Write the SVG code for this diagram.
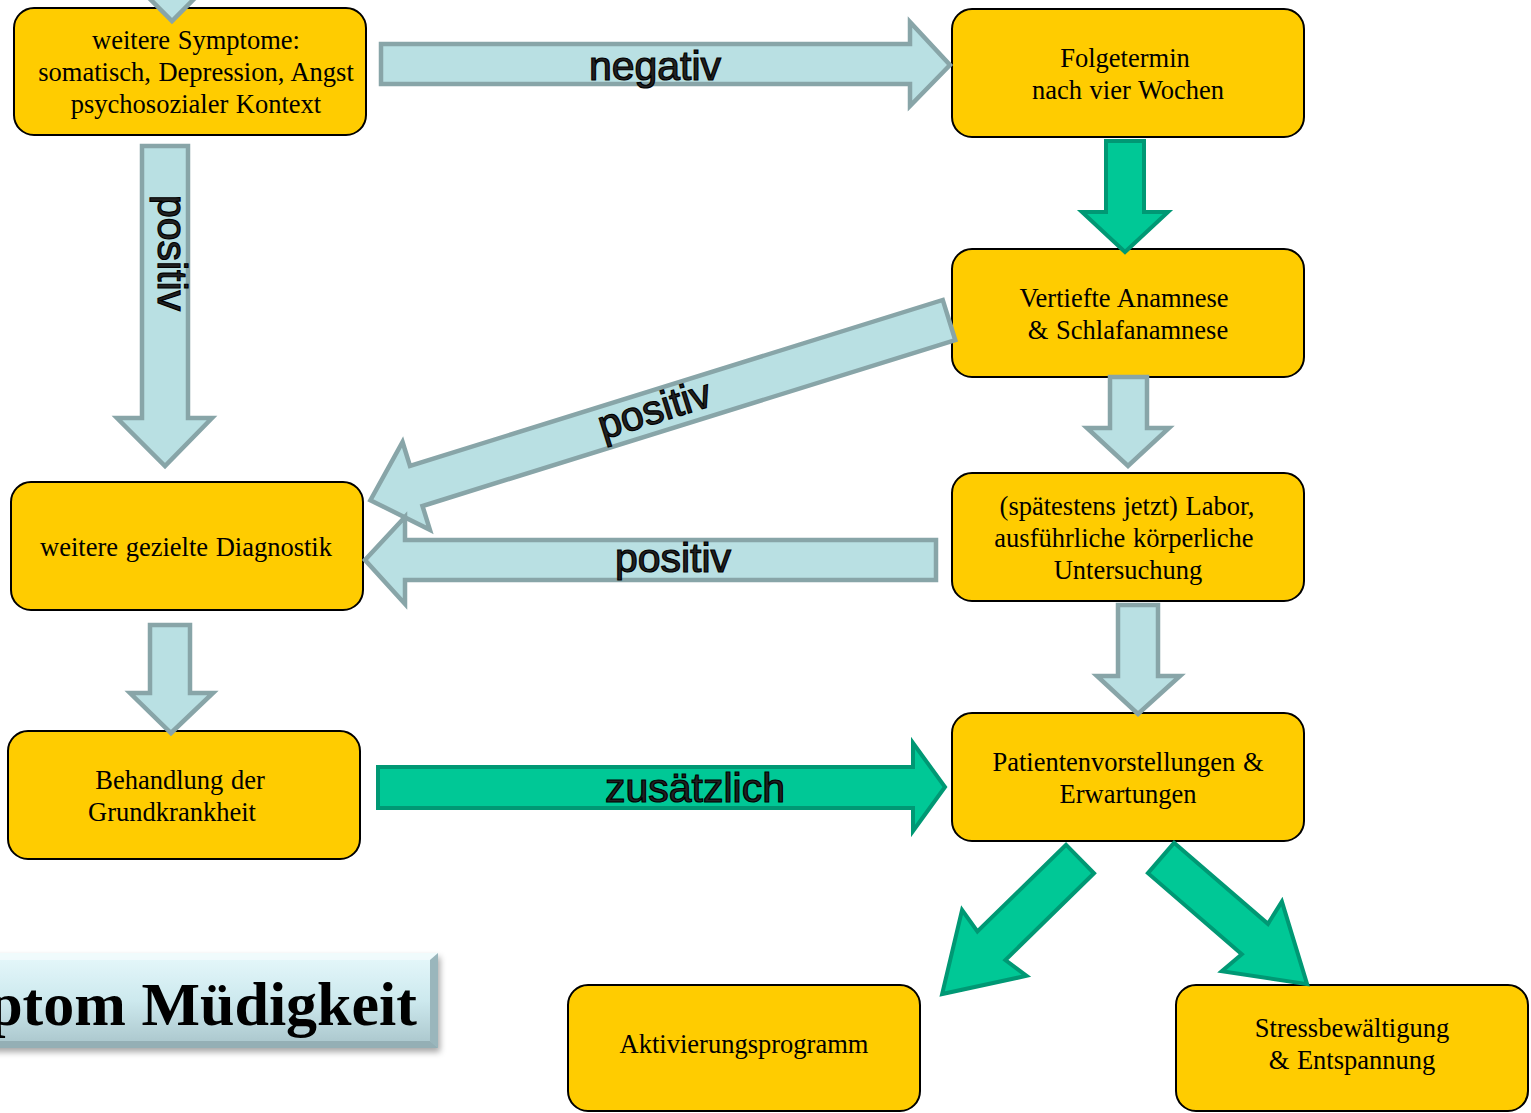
<svg xmlns="http://www.w3.org/2000/svg" width="1531" height="1113" viewBox="0 0 1531 1113">
<defs>
<style>
.node rect{fill:#FFCC00;stroke:#000;stroke-width:2}
.node text{font-family:"Liberation Serif","Times New Roman",serif;font-size:26.5px;fill:#000;text-anchor:middle;word-spacing:1px}
.blue{fill:#B9E0E3;stroke:#88A5A8;stroke-width:4.5;stroke-linejoin:miter}
.green{fill:#00C896;stroke:#009874;stroke-width:4;stroke-linejoin:miter}
.lbl{font-family:"Liberation Sans",Arial,sans-serif;font-size:41px;fill:#222;stroke:#000;stroke-width:1.2;text-anchor:middle}
</style>
<linearGradient id="tg" x1="0" y1="0" x2="0" y2="1">
<stop offset="0" stop-color="#E6F8FB"/>
<stop offset="0.5" stop-color="#CDE9EE"/>
<stop offset="1" stop-color="#A8C4CA"/>
</linearGradient>
<filter id="sh" x="-10%" y="-20%" width="120%" height="150%">
<feDropShadow dx="2" dy="4" stdDeviation="3" flood-color="#000" flood-opacity="0.35"/>
</filter>
</defs>

<g id="title">
<rect x="-10" y="953" width="448" height="95" fill="url(#tg)" filter="url(#sh)"/>
<polygon points="-10,953 438,953 430,960 -10,960" fill="#F2FBFC" opacity="0.8"/>
<polygon points="438,953 438,1048 430,1041 430,960" fill="#9AB6BC"/>
<polygon points="-10,1048 438,1048 430,1041 -10,1041" fill="#94AFB5"/>
<text x="417" y="1025" font-family="'Liberation Serif','Times New Roman',serif" font-weight="bold" font-size="62" text-anchor="end" fill="#000">ptom Müdigkeit</text>
</g>

<g id="n-symptome" class="node">
<rect x="14" y="8" width="352" height="127" rx="20"/>
<text><tspan x="196" y="49">weitere Symptome:</tspan><tspan x="196" y="81">somatisch, Depression, Angst</tspan><tspan x="196" y="113">psychosozialer Kontext</tspan></text>
</g>
<g id="n-folgetermin" class="node">
<rect x="952" y="9" width="352" height="128" rx="20"/>
<text><tspan x="1125" y="67">Folgetermin</tspan><tspan x="1128" y="99">nach vier Wochen</tspan></text>
</g>
<g id="n-anamnese" class="node">
<rect x="952" y="249" width="352" height="128" rx="20"/>
<text><tspan x="1124" y="307">Vertiefte Anamnese</tspan><tspan x="1128" y="339">&amp; Schlafanamnese</tspan></text>
</g>
<g id="n-labor" class="node">
<rect x="952" y="473" width="352" height="128" rx="20"/>
<text><tspan x="1127" y="515">(spätestens jetzt) Labor,</tspan><tspan x="1124" y="547">ausführliche körperliche</tspan><tspan x="1128" y="579">Untersuchung</tspan></text>
</g>
<g id="n-diagnostik" class="node">
<rect x="11" y="482" width="352" height="128" rx="20"/>
<text x="186" y="556">weitere gezielte Diagnostik</text>
</g>
<g id="n-behandlung" class="node">
<rect x="8" y="731" width="352" height="128" rx="20"/>
<text><tspan x="180" y="789">Behandlung der</tspan><tspan x="172" y="821">Grundkrankheit</tspan></text>
</g>
<g id="n-patienten" class="node">
<rect x="952" y="713" width="352" height="128" rx="20"/>
<text><tspan x="1128" y="771">Patientenvorstellungen &amp;</tspan><tspan x="1128" y="803">Erwartungen</tspan></text>
</g>
<g id="n-aktivierung" class="node">
<rect x="568" y="985" width="352" height="126" rx="20"/>
<text x="744" y="1053">Aktivierungsprogramm</text>
</g>
<g id="n-stress" class="node">
<rect x="1176" y="985" width="352" height="126" rx="20"/>
<text><tspan x="1352" y="1037">Stressbewältigung</tspan><tspan x="1352" y="1069">&amp; Entspannung</tspan></text>
</g>

<g id="connectors">
<polygon class="blue" points="150,-60 194,-60 194,-22 215,-22 172,21 129,-22 150,-22"/>
<polygon class="blue" points="381,44 910,44 910,22 950,65 910,106 910,84 381,84"/>
<polygon class="blue" points="142,146 188,146 188,418 212,418 165,466 117,418 142,418"/>
<path class="blue" transform="translate(949,320) rotate(162.7)" d="M0,-21 L558,-21 L558,-46 L606,0 L558,46 L558,21 L0,21 Z"/>
<polygon class="blue" points="936,540 405,540 405,517 365,560 405,604 405,580 936,580"/>
<polygon class="blue" points="1110,377 1147,377 1147,428 1169,428 1128,466 1087,428 1110,428"/>
<polygon class="blue" points="1118,605 1158,605 1158,676 1180,676 1138,714 1097,676 1118,676"/>
<polygon class="blue" points="150,625 190,625 190,693 213,693 171,733 130,693 150,693"/>
<polygon class="green" points="1106,141 1144,141 1144,212 1168,212 1125,252 1082,212 1106,212"/>
<polygon class="green" points="378,767 913,767 913,743 945,787 913,831 913,808 378,808"/>
<path class="green" transform="translate(1080,859) rotate(135.6)" d="M0,-20 L124,-20 L120,-46 L193,0 L120,46 L124,20 L0,20 Z"/>
<path class="green" transform="translate(1161,858) rotate(40.8)" d="M0,-20 L124,-20 L120,-46 L193,0 L120,46 L124,20 L0,20 Z"/>
<text class="lbl" x="655" y="80">negativ</text>
<text class="lbl" transform="translate(158,253) rotate(90)" x="0" y="0">positiv</text>
<text class="lbl" transform="translate(655,411) rotate(-17.3)" x="0" y="12">positiv</text>
<text class="lbl" x="673" y="572">positiv</text>
<text class="lbl" x="695" y="802" font-size="37">zusätzlich</text>
</g>
</svg>
